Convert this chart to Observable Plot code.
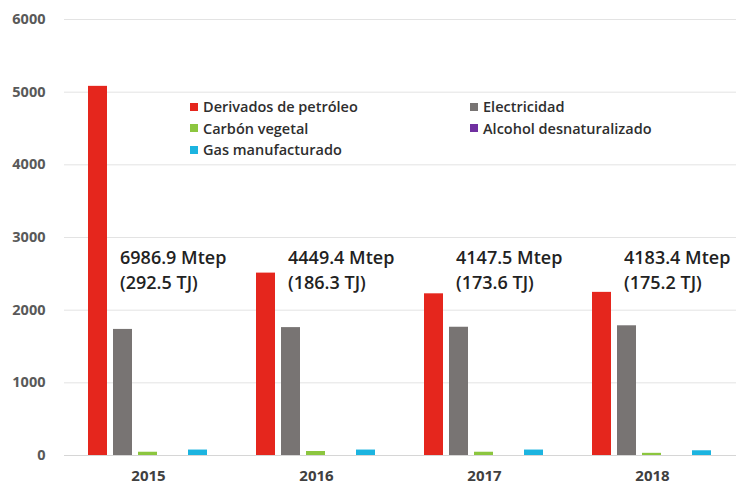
<!DOCTYPE html>
<html>
<head>
<meta charset="utf-8">
<script src="https://cdn.jsdelivr.net/npm/d3@7"></script>
<script src="https://cdn.jsdelivr.net/npm/@observablehq/plot@0.6"></script>
<style>
  html, body { margin: 0; padding: 0; background: #fff; }
  #wrap { position: relative; width: 736px; height: 484px; font-family: "Open Sans", sans-serif; }
  #legend { position: absolute; left: 190px; top: 96px; display: grid; grid-template-columns: 280px 280px; row-gap: 0; }
  .item { display: flex; align-items: center; height: 21.5px; font-size: 14.5px; color: #2e2e2e; font-weight: 600; }
  .sw { width: 8px; height: 8px; margin-right: 5px; display: inline-block; }
</style>
</head>
<body>
<div id="wrap"></div>
<script>
const years = ["2015", "2016", "2017", "2018"];
const series = ["Derivados de petróleo", "Electricidad", "Carbón vegetal", "Alcohol desnaturalizado", "Gas manufacturado"];
const colors = ["#e5261d", "#787473", "#8cc63f", "#7030a0", "#1cb4e0"];
const derivados = [5080, 2510, 2225, 2245];
const electricidad = [1735, 1760, 1765, 1785];
const carbon = [45, 55, 45, 30];
const alcohol = [0, 0, 0, 0];
const gas = [75, 75, 75, 65];
const totalMtep = ["6986.9", "4449.4", "4147.5", "4183.4"];
const totalTJ = ["292.5", "186.3", "173.6", "175.2"];
const yTicks = [0, 1000, 2000, 3000, 4000, 5000, 6000];

const seriesValues = [derivados, electricidad, carbon, alcohol, gas];
const rows = [];
years.forEach((yr, i) => {
  series.forEach((s, j) => rows.push({year: yr, series: s, value: seriesValues[j][i]}));
});
const notes = years.map((yr, i) => ({year: yr, text: `${totalMtep[i]} Mtep\n(${totalTJ[i]} TJ)`}));

const plot = Plot.plot({
  width: 736,
  height: 484,
  marginLeft: 64,
  marginRight: 0,
  marginTop: 19,
  marginBottom: 29,
  style: {fontFamily: "Open Sans, sans-serif", background: "#fff"},
  fx: {domain: years, padding: 0, label: null},
  x: {domain: series, paddingInner: 0.23, paddingOuter: 0.846, axis: null},
  y: {domain: [0, 6000], label: null},
  color: {domain: series, range: colors},
  marks: [
    Plot.gridY(yTicks, {stroke: "#e3e3e3", strokeOpacity: 1, strokeWidth: 1}),
    Plot.ruleY([0], {stroke: "#d6d6d6", strokeWidth: 1.2}),
    Plot.axisY(yTicks, {tickSize: 0, tickPadding: 19, fontSize: 14.5, fontWeight: "bold", fill: "#595959", label: null, tickFormat: d => String(d)}),
    Plot.axisFx({anchor: "bottom", tickSize: 0, tickPadding: 15, fontSize: 15, fontWeight: "bold", fill: "#404040", label: null}),
    Plot.barY(rows, {fx: "year", x: "series", y: "value", fill: "series"}),
    Plot.text(notes, {fx: "year", x: () => "Electricidad", y: () => 2880, text: "text", textAnchor: "start", lineAnchor: "top", dx: -3, lineHeight: 1.38, fontSize: 18, fontWeight: 600, fill: "#222"})
  ]
});

const wrap = document.getElementById("wrap");
wrap.appendChild(plot);

const legend = document.createElement("div");
legend.id = "legend";
series.forEach((s, j) => {
  const it = document.createElement("div");
  it.className = "item";
  const sw = document.createElement("span");
  sw.className = "sw";
  sw.style.background = colors[j];
  it.appendChild(sw);
  it.appendChild(document.createTextNode(s));
  legend.appendChild(it);
});
wrap.appendChild(legend);
</script>
</body>
</html>
